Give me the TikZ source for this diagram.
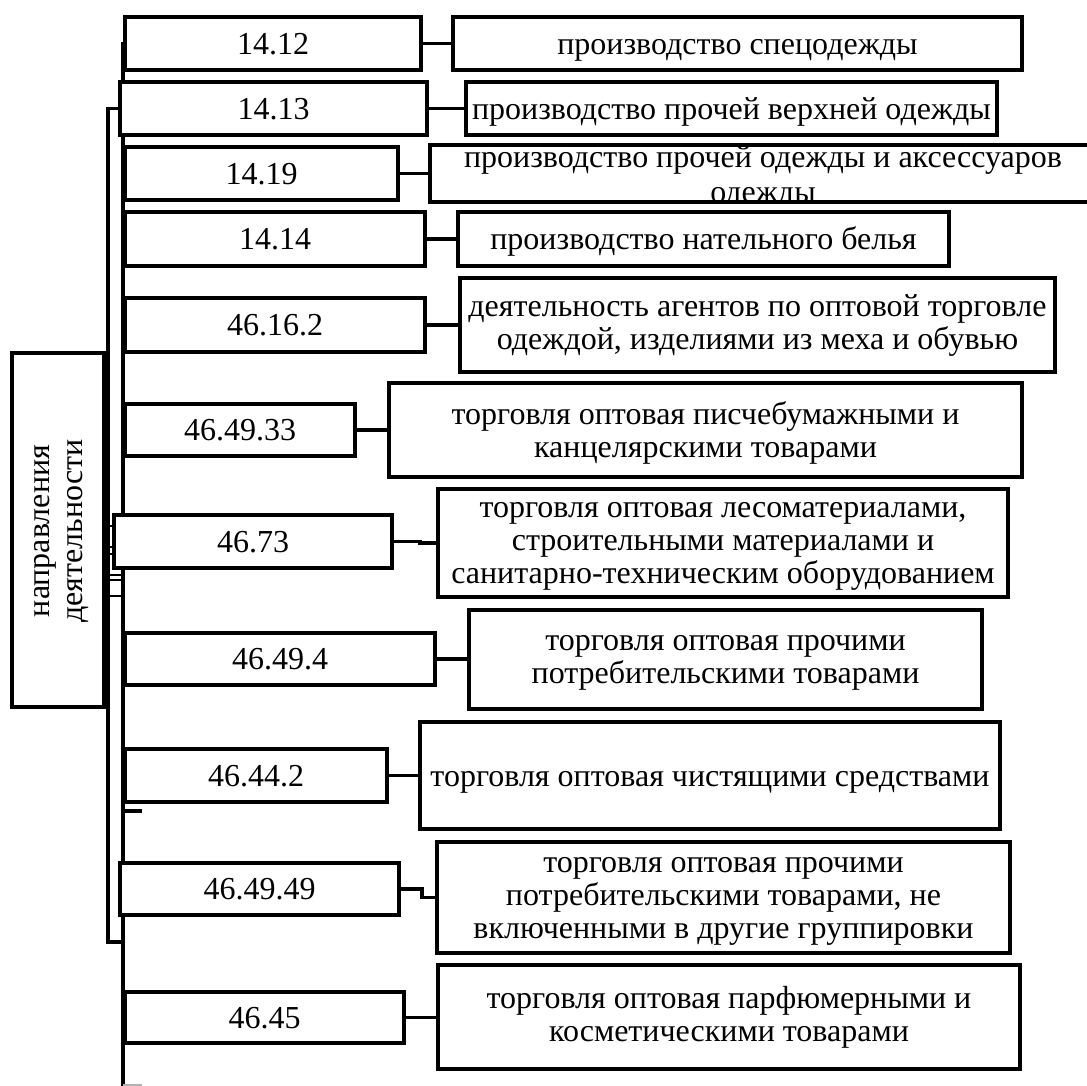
\documentclass[tikz,border=0pt]{standalone}
\usepackage{fontspec}
\setmainfont{Liberation Serif}
\newcommand\diagfont{\fontsize{32}{33}\selectfont}
\newcommand\wordstrut{\rule[-6.9pt]{0pt}{35.4pt}}
\tikzset{
  box/.style={draw,fill=white,line width=3.6pt,inner sep=0pt,font=\diagfont,
    execute at begin node=\wordstrut,execute at end node=\wordstrut},
  codebox/.style={box,minimum height=53},
  descbox/.style={box,align=center},
  tallbox/.style={descbox,text depth=-3pt},
  link/.style={line width=3.6pt},
}
\begin{document}
\begin{tikzpicture}[x=1pt,y=-1pt]
  \useasboundingbox (0,0) rectangle (1087,1086);
  \coordinate (bustop) at (123,42);
  \coordinate (busbot) at (123,1092);
  \coordinate (lowjoin) at (125,942);
  \coordinate (stub) at (142,811);
  \coordinate (stubend) at (142,1085);
  \draw[link] (bustop) -- (busbot);
  \node[box,minimum width=92,minimum height=354] (dir) at (58,530) {};
  \node[rotate=90,align=center,font=\diagfont] (dirtext) at (62,531) {направления\\деятельности};
  \foreach \y in {526,547,554,575,580,596}
    \draw[link,line width=2.6pt] (dir.east |- 0,\y) -- (bustop |- 0,\y);
  \draw[link] (bustop |- stub) -- (stub);
  \draw[link,line width=1.5pt,gray!60] (bustop |- stubend) -- (stubend);

  \node[codebox,minimum width=296] (k1) at (273,43.5) {14.12};
  \node[codebox,minimum width=307] (k2) at (273.5,108.5) {14.13};
  \node[codebox,minimum width=273] (k3) at (261.5,173.5) {14.19};
  \node[codebox,minimum width=300,minimum height=54] (k4) at (275,239) {14.14};
  \node[codebox,minimum width=300,minimum height=54] (k5) at (275,325) {46.16.2};
  \node[codebox,minimum width=230,minimum height=52] (k6) at (240,430) {46.49.33};
  \node[codebox,minimum width=278] (k7) at (253,541.5) {46.73};
  \node[codebox,minimum width=310,minimum height=52] (k8) at (280,659) {46.49.4};
  \node[codebox,minimum width=262] (k9) at (256,775.5) {46.44.2};
  \node[codebox,minimum width=279,minimum height=52] (k10) at (259.5,889) {46.49.49};
  \node[codebox,minimum width=279,minimum height=51] (k11) at (264.5,1017.5) {46.45};

  \node[descbox,minimum width=569,minimum height=53] (d1) at (737.5,43.5) {производство спецодежды};
  \node[descbox,minimum width=531,minimum height=53] (d2) at (731.5,108.5) {производство прочей верхней одежды};
  \node[descbox,draw=none,minimum width=668,minimum height=53] (d3) at (766,173.5) {};
  \begin{scope}
    \clip (d3.north west) rectangle (d3.south east);
    \node[align=center,font=\fontsize{32}{35}\selectfont] at (763,177.5) {производство прочей одежды и аксессуаров\\одежды};
  \end{scope}
  \draw[link] (d3.north west) rectangle (d3.south east);
  \node[descbox,minimum width=491,minimum height=54] (d4) at (703.5,239) {производство нательного белья};
  \node[descbox,minimum width=595,minimum height=94] (d5) at (757.5,325) {деятельность агентов по оптовой торговле\\одеждой, изделиями из меха и обувью};
  \node[tallbox,minimum width=633,minimum height=94] (d6) at (705.5,430) {торговля оптовая писчебумажными и\\канцелярскими товарами};
  \node[tallbox,minimum width=570,minimum height=108] (d7) at (723,543) {торговля оптовая лесоматериалами,\\строительными материалами и\\санитарно-техническим оборудованием};
  \node[tallbox,minimum width=513,minimum height=99] (d8) at (725.5,659.5) {торговля оптовая прочими\\потребительскими товарами};
  \node[descbox,minimum width=580,minimum height=107] (d9) at (710,775.5) {торговля оптовая чистящими средствами};
  \node[tallbox,minimum width=573,minimum height=111] (d10) at (723.5,897.5) {торговля оптовая прочими\\потребительскими товарами, не\\включенными в другие группировки};
  \node[descbox,minimum width=582,minimum height=104] (d11) at (729,1017) {торговля оптовая парфюмерными и\\косметическими товарами};

  \foreach \i in {1,2,3,4,5,6,8,9,11}
    \draw[link] (k\i.east) -- (k\i.east -| d\i.west);
  \draw[link] (k7.east) -- ++(26,0) |- (d7.west);
  \draw[link] (k10.east) -- ++(21,0) |- (d10.west);
  \draw[link] (k2.west) -- ++(-10,0) |- (lowjoin);
\end{tikzpicture}
\end{document}
